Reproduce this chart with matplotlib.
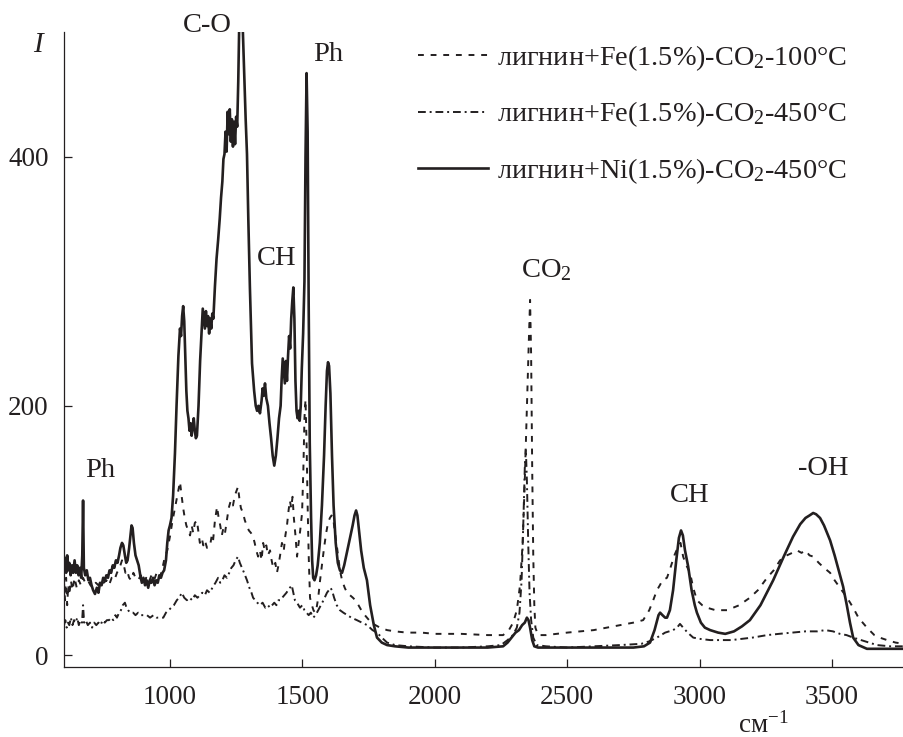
import matplotlib
matplotlib.use('Agg')
import matplotlib.pyplot as plt

plt.rcParams['font.family'] = ['Liberation Serif', 'DejaVu Serif']
plt.rcParams['mathtext.fontset'] = 'custom'
plt.rcParams['mathtext.rm'] = 'Liberation Serif'
plt.rcParams['mathtext.it'] = 'Liberation Serif:italic'

# (wavenumber, intensity)
ni_450 = [
    (600, 70), (604, 78), (608, 66), (612, 80), (616, 68), (620, 74), (625, 64), (630, 72), (635, 66), (640, 76),
    (645, 66), (650, 72), (655, 64), (660, 70), (665, 62), (669, 80), (672, 124), (675, 70), (680, 64), (686, 68),
    (692, 60), (698, 62), (704, 56), (710, 52), (717, 49), (724, 54), (730, 50), (736, 58), (742, 56), (748, 62),
    (754, 60), (760, 64), (766, 62), (772, 68), (778, 66), (784, 72), (790, 70), (796, 76), (802, 74), (808, 80),
    (813, 86), (819, 90), (824, 88), (830, 80), (835, 74), (840, 76), (846, 86), (851, 96), (855, 104), (859, 102),
    (864, 90), (870, 80), (876, 76), (882, 72), (888, 64), (894, 58), (900, 62), (906, 56), (912, 60), (918, 54),
    (924, 60), (930, 58), (936, 62), (942, 56), (948, 60), (954, 58), (960, 64), (966, 62), (972, 66), (978, 68),
    (985, 76), (990, 90), (995, 100), (1000, 104), (1006, 110), (1012, 128), (1019, 162), (1025, 200), (1032, 240), (1038, 262),
    (1042, 256), (1046, 272), (1050, 280), (1054, 268), (1058, 240), (1062, 212), (1066, 196), (1070, 190), (1074, 180), (1078, 186),
    (1082, 176), (1086, 184), (1090, 190), (1094, 180), (1098, 174), (1102, 176), (1108, 200), (1114, 236), (1120, 262), (1124, 278),
    (1128, 270), (1132, 262), (1136, 276), (1140, 264), (1144, 272), (1148, 258), (1152, 270), (1156, 262), (1160, 274), (1164, 270),
    (1170, 296), (1176, 318), (1182, 333), (1188, 350), (1193, 367), (1198, 380), (1202, 398), (1206, 402), (1210, 420), (1214, 404),
    (1218, 436), (1222, 418), (1226, 438), (1230, 412), (1234, 430), (1238, 408), (1242, 428), (1246, 410), (1250, 432), (1254, 424),
    (1258, 460), (1262, 510), (1268, 510), (1274, 510), (1280, 470), (1286, 430), (1291, 402), (1296, 350), (1302, 295), (1310, 234),
    (1318, 212), (1324, 200), (1329, 196), (1334, 200), (1340, 194), (1346, 204), (1350, 214), (1354, 208), (1359, 218), (1364, 206),
    (1370, 200), (1376, 186), (1382, 174), (1388, 160), (1394, 152), (1400, 160), (1406, 174), (1412, 190), (1418, 200), (1422, 222),
    (1426, 238), (1430, 228), (1434, 218), (1438, 236), (1442, 220), (1446, 240), (1450, 256), (1454, 246), (1458, 270), (1462, 284),
    (1466, 295), (1470, 270), (1474, 220), (1478, 196), (1482, 190), (1486, 196), (1490, 188), (1494, 200), (1498, 230), (1503, 258),
    (1508, 300), (1512, 400), (1516, 467), (1520, 420), (1524, 280), (1528, 170), (1533, 110), (1537, 76), (1541, 62), (1546, 60),
    (1552, 64), (1558, 72), (1566, 90), (1574, 120), (1582, 160), (1588, 200), (1593, 228), (1597, 235), (1601, 232), (1606, 210),
    (1612, 160), (1618, 120), (1626, 90), (1634, 74), (1642, 68), (1650, 66), (1658, 72), (1666, 80), (1674, 88), (1682, 96),
    (1690, 104), (1697, 112), (1703, 116), (1708, 112), (1714, 100), (1722, 84), (1732, 70), (1744, 60), (1756, 40), (1770, 24),
    (1782, 14), (1800, 10), (1820, 8), (1850, 7), (1900, 6), (2000, 6), (2100, 6), (2200, 6), (2258, 7), (2275, 10),
    (2290, 14), (2305, 18), (2318, 20), (2330, 24), (2340, 26), (2348, 30), (2354, 28), (2360, 22), (2368, 12), (2376, 7),
    (2390, 6), (2450, 6), (2550, 6), (2650, 6), (2750, 6), (2790, 7), (2813, 10), (2830, 20), (2845, 32), (2851, 34),
    (2860, 32), (2870, 30), (2877, 30), (2888, 36), (2900, 52), (2912, 76), (2922, 94), (2930, 100), (2937, 96), (2945, 84),
    (2957, 71), (2970, 52), (2982, 40), (2990, 34), (3005, 26), (3020, 22), (3040, 20), (3070, 18), (3097, 17), (3130, 19),
    (3160, 23), (3190, 28), (3230, 40), (3278, 60), (3320, 80), (3353, 95), (3380, 105), (3400, 110), (3415, 112), (3429, 114),
    (3440, 113), (3455, 110), (3470, 104), (3493, 92), (3510, 80), (3528, 66), (3542, 55), (3556, 40), (3568, 26), (3580, 14),
    (3600, 8), (3632, 5), (3700, 5), (3772, 5),
]

fe_100 = [
    (600, 58), (604, 44), (608, 62), (612, 40), (616, 56), (620, 48), (626, 60), (632, 52), (640, 62), (648, 54),
    (656, 60), (664, 56), (672, 62), (680, 58), (690, 60), (700, 56), (710, 54), (720, 58), (730, 56), (740, 60),
    (750, 58), (760, 60), (770, 56), (780, 62), (790, 60), (800, 66), (810, 70), (819, 76), (826, 72), (832, 66),
    (838, 68), (846, 62), (854, 60), (862, 66), (870, 62), (880, 60), (890, 64), (900, 58), (910, 62), (920, 58),
    (930, 64), (940, 60), (950, 66), (962, 62), (972, 70), (980, 78), (990, 84), (1000, 95), (1010, 108), (1019, 118),
    (1026, 126), (1032, 132), (1038, 139), (1044, 128), (1050, 118), (1056, 110), (1062, 104), (1069, 100), (1076, 96), (1082, 104),
    (1088, 98), (1094, 106), (1102, 108), (1108, 98), (1113, 90), (1120, 94), (1126, 88), (1132, 92), (1140, 86), (1151, 87),
    (1158, 96), (1163, 92), (1170, 108), (1178, 119), (1184, 110), (1190, 104), (1196, 96), (1202, 102), (1208, 98), (1215, 108),
    (1222, 118), (1230, 124), (1238, 120), (1245, 128), (1252, 132), (1257, 135), (1262, 126), (1268, 118), (1276, 114), (1283, 108),
    (1290, 104), (1298, 100), (1306, 98), (1314, 95), (1320, 90), (1326, 84), (1333, 79), (1340, 84), (1346, 76), (1352, 90),
    (1358, 84), (1364, 88), (1370, 80), (1378, 84), (1384, 76), (1390, 70), (1398, 74), (1404, 66), (1410, 72), (1416, 80),
    (1423, 90), (1430, 84), (1436, 96), (1442, 104), (1448, 116), (1453, 124), (1458, 118), (1463, 127), (1468, 110), (1474, 96),
    (1480, 79), (1486, 90), (1492, 100), (1499, 114), (1504, 150), (1508, 190), (1512, 205), (1516, 170), (1520, 120), (1524, 80),
    (1529, 46), (1536, 40), (1542, 36), (1548, 34), (1554, 38), (1560, 46), (1567, 60), (1574, 72), (1582, 86), (1590, 98),
    (1597, 106), (1604, 110), (1610, 112), (1616, 111), (1622, 100), (1630, 88), (1636, 78), (1642, 68), (1650, 60), (1660, 54),
    (1669, 50), (1680, 48), (1691, 46), (1700, 44), (1712, 40), (1728, 34), (1744, 30), (1760, 26), (1776, 24), (1793, 22),
    (1820, 20), (1850, 19), (1895, 18), (1950, 18), (2000, 17), (2100, 17), (2200, 16), (2258, 16), (2280, 20), (2296, 26),
    (2310, 36), (2322, 56), (2332, 90), (2340, 140), (2348, 200), (2355, 250), (2360, 285), (2364, 240), (2368, 150), (2372, 80),
    (2376, 40), (2380, 22), (2390, 16), (2420, 16), (2500, 18), (2600, 20), (2650, 22), (2700, 24), (2750, 26), (2787, 28),
    (2810, 36), (2825, 44), (2839, 52), (2850, 56), (2860, 60), (2877, 62), (2890, 70), (2905, 80), (2919, 87), (2928, 90),
    (2938, 79), (2950, 72), (2964, 66), (2976, 54), (2990, 44), (3010, 40), (3028, 38), (3060, 36), (3104, 36), (3150, 40),
    (3190, 46), (3220, 52), (3255, 62), (3280, 68), (3304, 76), (3330, 80), (3350, 82), (3368, 84), (3385, 82), (3400, 84),
    (3415, 80), (3429, 79), (3450, 74), (3470, 70), (3493, 66), (3510, 60), (3530, 54), (3557, 46), (3580, 38), (3600, 30),
    (3632, 22), (3660, 16), (3680, 14), (3708, 12), (3740, 10), (3772, 9),
]

fe_450 = [
    (600, 24), (605, 28), (610, 22), (615, 26), (620, 24), (626, 30), (632, 24), (638, 28), (644, 26), (650, 30),
    (656, 24), (662, 28), (668, 26), (672, 40), (676, 26), (682, 28), (690, 24), (698, 26), (706, 22), (714, 26),
    (722, 24), (730, 26), (738, 24), (746, 28), (754, 26), (762, 28), (770, 28), (778, 30), (786, 28), (794, 32),
    (800, 30), (808, 34), (815, 36), (822, 40), (830, 42), (836, 38), (842, 36), (850, 34), (861, 34), (870, 32),
    (880, 34), (890, 32), (900, 32), (913, 32), (925, 30), (938, 32), (950, 30), (962, 30), (975, 30), (985, 34),
    (995, 36), (1005, 38), (1015, 40), (1026, 44), (1035, 46), (1045, 50), (1054, 46), (1064, 44), (1074, 46), (1084, 44),
    (1094, 48), (1104, 46), (1113, 48), (1122, 50), (1132, 48), (1140, 52), (1150, 50), (1163, 55), (1172, 58), (1182, 62),
    (1190, 58), (1198, 60), (1206, 64), (1215, 62), (1224, 66), (1232, 70), (1240, 72), (1248, 76), (1257, 79), (1264, 74),
    (1272, 70), (1280, 66), (1291, 60), (1300, 54), (1308, 50), (1314, 46), (1322, 44), (1330, 42), (1340, 40), (1350, 42),
    (1360, 38), (1370, 40), (1378, 38), (1386, 40), (1394, 42), (1402, 40), (1410, 44), (1416, 44), (1424, 46), (1432, 48),
    (1440, 50), (1446, 52), (1453, 54), (1460, 56), (1466, 50), (1472, 44), (1480, 42), (1491, 38), (1500, 40), (1508, 36),
    (1516, 34), (1524, 32), (1532, 34), (1541, 30), (1550, 32), (1560, 36), (1570, 40), (1580, 44), (1593, 50), (1600, 52),
    (1606, 54), (1612, 52), (1620, 46), (1630, 40), (1642, 36), (1655, 34), (1670, 32), (1685, 30), (1706, 28), (1725, 26),
    (1745, 24), (1765, 20), (1782, 18), (1800, 14), (1820, 10), (1850, 8), (1900, 7), (2000, 6), (2100, 6), (2200, 7),
    (2250, 8), (2275, 12), (2295, 16), (2310, 22), (2320, 34), (2328, 60), (2335, 110), (2340, 150), (2344, 165), (2348, 140),
    (2353, 90), (2358, 50), (2364, 28), (2372, 14), (2385, 8), (2420, 7), (2500, 6), (2600, 7), (2700, 8), (2780, 9),
    (2810, 11), (2839, 14), (2870, 18), (2900, 20), (2915, 22), (2926, 25), (2938, 22), (2955, 18), (2976, 14), (3000, 13),
    (3040, 12), (3078, 12), (3120, 12), (3160, 13), (3200, 14), (3255, 16), (3300, 17), (3350, 18), (3400, 19), (3444, 19),
    (3475, 20), (3504, 19), (3530, 17), (3555, 16), (3580, 14), (3610, 12), (3640, 10), (3670, 8), (3720, 7), (3772, 7),
]

labels = [
    'лигнин+Fe(1.5%)-CO$_2$-100°C',
    'лигнин+Fe(1.5%)-CO$_2$-450°C',
    'лигнин+Ni(1.5%)-CO$_2$-450°C',
]
x_ticks = [1000, 1500, 2000, 2500, 3000, 3500]
y_ticks = [0, 200, 400]

W, H = 904, 737
fig = plt.figure(figsize=(W / 100, H / 100), dpi=100)
ax = fig.add_axes([64 / W, 1 - 667 / H, 1 - 64 / W, (667 - 32) / H])

c = '#231f20'
x, y = zip(*fe_100)
ax.plot(x, y, color=c, lw=1.4, ls=(0, (3, 3.5)), label=labels[0])
x, y = zip(*fe_450)
ax.plot(x, y, color=c, lw=1.4, ls=(0, (4, 2, 1, 2)), label=labels[1])
x, y = zip(*ni_450)
ax.plot(x, y, color=c, lw=1.9, label=labels[2])

ax.set_xlim(600, 3772)
ax.set_ylim(-9.6, 500)
ax.set_xticks(x_ticks)
ax.set_yticks(y_ticks)
for s in ['top', 'right']:
    ax.spines[s].set_visible(False)
for s in ['left', 'bottom']:
    ax.spines[s].set_linewidth(0.9)
    ax.spines[s].set_color(c)
ax.tick_params(direction='in', length=6, width=0.9, colors=c, labelsize=19.5)
ax.tick_params(axis='x', pad=13)
ax.tick_params(axis='y', pad=11)

fs = 20.5
ax.text(1140, 505, 'C-O', fontsize=fs, ha='center', va='center', color=c)
ax.text(1597, 482, 'Ph', fontsize=fs, ha='center', va='center', color=c)
ax.text(1404, 318, 'CH', fontsize=fs, ha='center', va='center', color=c)
ax.text(2420, 309, 'CO$_2$', fontsize=fs, ha='center', va='center', color=c)
ax.text(736, 148, 'Ph', fontsize=fs, ha='center', va='center', color=c)
ax.text(2964, 128, 'CH', fontsize=fs, ha='center', va='center', color=c)
ax.text(3466, 150, '-OH', fontsize=fs, ha='center', va='center', color=c)

fig.text(38 / W, 1 - 45 / H, 'I', fontsize=21, style='italic', ha='center', va='center', color=c)
fig.text(763 / W, 1 - 725 / H, 'см$^{-1}$', fontsize=19.5, ha='center', va='center', color=c)

leg = ax.legend(loc='upper left', bbox_to_anchor=(418 / W, 1 - 43 / H), bbox_transform=fig.transFigure,
                frameon=False, fontsize=20.3, handlelength=2.5, handletextpad=0.3,
                labelspacing=0.95, borderpad=0, borderaxespad=0)
for t in leg.get_texts():
    t.set_color(c)

fig.savefig('out.png', dpi=100)
